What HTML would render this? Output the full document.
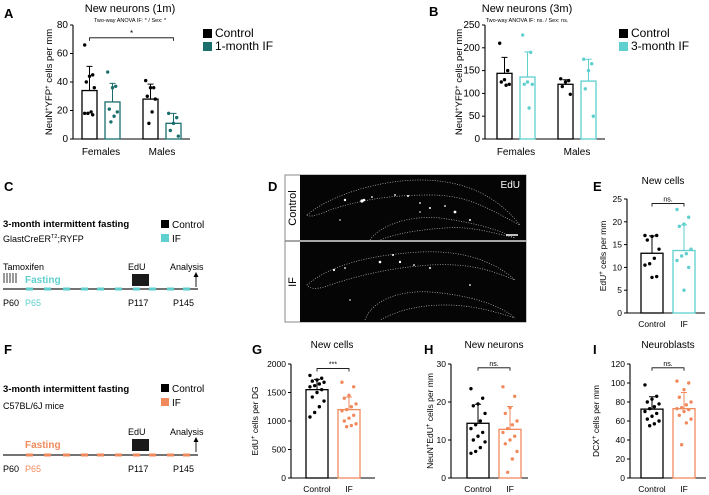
<!DOCTYPE html>
<html><head><meta charset="utf-8">
<style>
html,body{margin:0;padding:0;background:#fff;}
svg{display:block;font-family:"Liberation Sans",Arial,sans-serif;}
</style></head>
<body>
<svg id="fig" width="709" height="495" viewBox="0 0 709 495" xmlns="http://www.w3.org/2000/svg">
  <g font-weight="bold" font-size="13" fill="#000">
    <text x="4" y="18">A</text>
    <text x="429" y="16">B</text>
    <text x="4" y="191">C</text>
    <text x="268" y="191">D</text>
    <text x="593" y="191">E</text>
    <text x="4" y="354">F</text>
    <text x="252" y="354">G</text>
    <text x="424" y="354">H</text>
    <text x="593" y="354">I</text>
  </g>

  <g font-size="12">
    <rect x="203" y="29" width="9" height="9" fill="#000"/><text x="215" y="37">Control</text>
    <rect x="203" y="42" width="9" height="9" fill="#1a6e6c"/><text x="215" y="50">1-month IF</text>
  </g>
  <g font-size="12">
    <rect x="619" y="29" width="9" height="9" fill="#000"/><text x="631" y="37">Control</text>
    <rect x="619" y="42" width="9" height="9" fill="#5fcfcf"/><text x="631" y="50">3-month IF</text>
  </g>

  <g>
    <text x="3" y="227" font-size="9.5" font-weight="bold">3-month intermittent fasting</text>
    <text x="3" y="242" font-size="9">GlastCreER<tspan font-size="5.5" dy="-4">T2</tspan><tspan dy="4">;RYFP</tspan></text>
    <rect x="161" y="220" width="8" height="8" fill="#000"/><text x="172" y="228" font-size="10">Control</text>
    <rect x="161" y="234" width="8" height="8" fill="#5fcfcf"/><text x="172" y="242" font-size="10">IF</text>
    <text x="3" y="270" font-size="9">Tamoxifen</text>
    <g stroke="#000" stroke-width="0.8">
      <line x1="4" y1="273" x2="4" y2="283"/><line x1="7" y1="273" x2="7" y2="283"/><line x1="10" y1="273" x2="10" y2="283"/><line x1="13" y1="273" x2="13" y2="283"/><line x1="16" y1="273" x2="16" y2="283"/>
    </g>
    <text x="25" y="283" font-size="10" font-weight="bold" fill="#5fcfcf">Fasting</text>
    <text x="128" y="270" font-size="9">EdU</text>
    <rect x="132" y="274" width="17" height="12" fill="#1a1a1a"/>
    <text x="170" y="270" font-size="9">Analysis</text>
    <line x1="196" y1="287" x2="196" y2="275" stroke="#000" stroke-width="0.9"/>
    <polygon points="193.5,277 196,272 198.5,277" fill="#000"/>
    <line x1="3" y1="289" x2="198" y2="289" stroke="#222" stroke-width="1.2"/>
    <g fill="#5fcfcf">
      <rect x="26" y="287.5" width="7" height="3"/><rect x="44" y="287.5" width="7" height="3"/><rect x="63" y="287.5" width="7" height="3"/><rect x="81" y="287.5" width="7" height="3"/><rect x="97" y="287.5" width="7" height="3"/><rect x="115" y="287.5" width="7" height="3"/><rect x="133" y="287.5" width="7" height="3"/><rect x="149" y="287.5" width="7" height="3"/><rect x="167" y="287.5" width="7" height="3"/><rect x="183" y="287.5" width="7" height="3"/>
    </g>
    <text x="3" y="306" font-size="9">P60</text>
    <text x="25" y="306" font-size="9" fill="#5fcfcf">P65</text>
    <text x="128" y="306" font-size="9">P117</text>
    <text x="173" y="306" font-size="9">P145</text>
  </g>

  <g>
    <text x="3" y="392" font-size="9.5" font-weight="bold">3-month intermittent fasting</text>
    <text x="3" y="409" font-size="9">C57BL/6J mice</text>
    <rect x="161" y="384" width="8" height="8" fill="#000"/><text x="172" y="392" font-size="10">Control</text>
    <rect x="161" y="398" width="8" height="8" fill="#f08a5d"/><text x="172" y="406" font-size="10">IF</text>
    <text x="25" y="448" font-size="10" font-weight="bold" fill="#f08a5d">Fasting</text>
    <text x="128" y="435" font-size="9">EdU</text>
    <rect x="132" y="439" width="17" height="12" fill="#1a1a1a"/>
    <text x="170" y="435" font-size="9">Analysis</text>
    <line x1="196" y1="452" x2="196" y2="440" stroke="#000" stroke-width="0.9"/>
    <polygon points="193.5,442 196,437 198.5,442" fill="#000"/>
    <line x1="3" y1="455" x2="198" y2="455" stroke="#222" stroke-width="1.2"/>
    <g fill="#f08a5d">
      <rect x="26" y="453.5" width="7" height="3"/><rect x="44" y="453.5" width="7" height="3"/><rect x="63" y="453.5" width="7" height="3"/><rect x="81" y="453.5" width="7" height="3"/><rect x="97" y="453.5" width="7" height="3"/><rect x="115" y="453.5" width="7" height="3"/><rect x="133" y="453.5" width="7" height="3"/><rect x="149" y="453.5" width="7" height="3"/><rect x="167" y="453.5" width="7" height="3"/><rect x="183" y="453.5" width="7" height="3"/>
    </g>
    <text x="3" y="472" font-size="9">P60</text>
    <text x="25" y="472" font-size="9" fill="#f08a5d">P65</text>
    <text x="128" y="472" font-size="9">P117</text>
    <text x="173" y="472" font-size="9">P145</text>
  </g>

  <g>
    <rect x="285" y="175" width="241" height="147" fill="#fff" stroke="#888" stroke-width="1"/>
    <rect x="300" y="175" width="226" height="65" fill="#050505"/>
    <rect x="300" y="242" width="226" height="80" fill="#050505"/>
    <line x1="285" y1="241" x2="526" y2="241" stroke="#888" stroke-width="1.5"/>
    <text transform="translate(296,208) rotate(-90)" text-anchor="middle" font-size="11">Control</text>
    <text transform="translate(296,282) rotate(-90)" text-anchor="middle" font-size="11">IF</text>
    <text x="520" y="188" text-anchor="end" font-size="10" fill="#fff">EdU</text>
    <g fill="none" stroke="#bbb" stroke-width="0.7" stroke-dasharray="1,1.5">
      <path d="M307,215 C330,195 380,180 420,180 C470,180 500,200 520,225 C490,210 470,195 430,195 C390,195 360,200 330,210 C320,214 310,218 307,215 Z"/>
      <path d="M370,240 C380,225 410,215 440,218 C470,222 495,228 515,238 C490,232 470,226 445,228 C415,230 395,234 380,240"/>
      <path d="M307,285 C330,265 370,255 420,252 C465,250 495,262 515,280 C490,270 470,263 430,265 C390,268 360,275 330,285 C320,289 310,290 307,285 Z"/>
      <path d="M365,320 C372,300 400,290 430,292 C470,295 500,305 515,318 C490,310 470,305 445,305 C415,305 395,312 380,320"/>
    </g>
    <g fill="#fff">
      <circle cx="345" cy="200" r="1.2"/><circle cx="362" cy="201" r="1.6"/><circle cx="364" cy="200" r="1.3"/><circle cx="372" cy="197" r="0.9"/><circle cx="395" cy="195" r="0.9"/><circle cx="408" cy="196" r="1"/><circle cx="420" cy="203" r="0.9"/><circle cx="430" cy="208" r="1"/><circle cx="455" cy="212" r="1.4"/><circle cx="445" cy="206" r="0.9"/><circle cx="470" cy="220" r="1"/><circle cx="340" cy="220" r="0.8"/>
      <circle cx="334" cy="270" r="1.1"/><circle cx="345" cy="268" r="0.9"/><circle cx="380" cy="262" r="1.3"/><circle cx="393" cy="255" r="1"/><circle cx="400" cy="262" r="1.2"/><circle cx="414" cy="265" r="0.9"/><circle cx="430" cy="268" r="1"/><circle cx="470" cy="285" r="0.9"/><circle cx="350" cy="300" r="0.8"/><circle cx="420" cy="212" r="0.8"/>
    </g>
    <line x1="506" y1="235" x2="518" y2="235" stroke="#fff" stroke-width="1.5"/>
  </g>

  <g id="charts"></g>
</svg>

<script>
// ---- Panel A data ----
const aGroups = ['Females', 'Males'];
const aCtrlMean = [34, 28];
const aIfMean = [26, 11];
const aCtrlSd = [17, 10.5];
const aIfSd = [13, 7];
const aCtrlPts = [[66, 45, 44, 40, 36, 19, 18, 18, 17], [41, 36, 36, 30, 28, 19, 11]];
const aIfPts = [[47, 37, 36, 21, 19, 16, 12], [18, 15, 11, 6, 2]];
const aTicks = [0, 20, 40, 60, 80];

// ---- Panel B data ----
const bGroups = ['Females', 'Males'];
const bCtrlMean = [144, 120];
const bIfMean = [136, 127];
const bCtrlSd = [35, 10];
const bIfSd = [55, 48];
const bCtrlPts = [[210, 150, 130, 125, 120, 118], [132, 128, 125, 115, 98]];
const bIfPts = [[228, 190, 125, 120, 120, 68], [175, 165, 150, 110, 50]];
const bTicks = [0, 50, 100, 150, 200, 250];

// ---- Panel E data ----
const eCats = ['Control', 'IF'];
const eMeans = [13.1, 13.7];
const eSds = [3.8, 5.6];
const ePts = [[17, 17, 16.8, 16, 14, 12, 10.8, 10.5, 8, 7.8], [22.7, 21, 19.5, 19, 14, 13, 12.5, 11.5, 10, 5]];
const eTicks = [0, 5, 10, 15, 20, 25];

// ---- Panel G data ----
const gCats = ['Control', 'IF'];
const gMeans = [1550, 1200];
const gSds = [180, 220];
const gPts = [[1800, 1750, 1720, 1700, 1680, 1650, 1620, 1600, 1550, 1500, 1420, 1350, 1250, 1150, 1070], [1680, 1600, 1450, 1400, 1300, 1250, 1200, 1180, 1100, 1050, 1000, 950, 920, 900]];
const gTicks = [0, 500, 1000, 1500, 2000];

// ---- Panel H data ----
const hCats = ['Control', 'IF'];
const hMeans = [14.4, 12.8];
const hSds = [5, 6];
const hPts = [[23.5, 21, 19.5, 19, 17, 15, 14, 13, 12, 11, 10, 9.5, 8, 7, 6.5], [24, 21.5, 18.5, 17, 15, 14, 13, 12, 11, 10, 9, 7, 5, 1.5]];
const hTicks = [0, 10, 20, 30];

// ---- Panel I data ----
const iCats = ['Control', 'IF'];
const iMeans = [72.5, 73];
const iSds = [13, 17];
const iPts = [[98, 86, 83, 80, 78, 75, 73, 70, 68, 65, 62, 60, 57, 55], [102, 100, 93, 85, 80, 77, 74, 73, 72, 70, 66, 62, 58, 35]];
const iTicks = [0, 20, 40, 60, 80, 100, 120];

const NS = 'http://www.w3.org/2000/svg';
const root = document.getElementById('charts');
function mk(tag, attrs, parent) {
  const e = document.createElementNS(NS, tag);
  for (const k in attrs) e.setAttribute(k, attrs[k]);
  (parent || root).appendChild(e);
  return e;
}
function jitter(i) { return ((i * 5) % 7 - 3) / 3; }

function drawChart(o) {
  const g = mk('g', {});
  
  
  const max = o.ticks[o.ticks.length - 1];
  const yS = v => o.y0 - v / max * (o.y0 - o.yTop);
  const t = mk('text', { x: o.titleX, y: o.titleY, 'text-anchor': 'middle', 'font-size': o.titleSize }, g);
  t.textContent = o.title;
  
  
  if (o.sub) {
    const s = mk('text', { x: o.titleX, y: o.titleY + 10, 'text-anchor': 'middle', 'font-size': 5.5 }, g);
    s.textContent = o.sub;
    
    
  }
  const yt = mk('text', { transform: 'translate(' + o.yTitleX + ',' + ((o.y0 + o.yTop) / 2) + ') rotate(-90)', 'text-anchor': 'middle', 'font-size': o.yTitleSize }, g);
  yt.innerHTML = o.yTitle;
  
  
  const ax = mk('path', { d: 'M' + o.axisX + ',' + o.yTop + ' V' + o.y0 + ' H' + o.axisEnd, stroke: '#000', 'stroke-width': 1.1, fill: 'none' }, g);
  
  
  o.ticks.forEach(v => {
    const y = yS(v);
    mk('line', { x1: o.axisX - 3, x2: o.axisX, y1: y, y2: y, stroke: '#000', 'stroke-width': 1 }, g);
    const tl = mk('text', { x: o.axisX - 5, y: y + 3, 'text-anchor': 'end', 'font-size': o.tickSize }, g);
    tl.textContent = v;
    
    
  });
  o.series.forEach((sr, si) => {
    sr.means.forEach((m, ci) => {
      const x = o.barX(ci, si), w = o.barW;
      const top = yS(m);
      const bar = mk('rect', { x: x, y: top, width: w, height: o.y0 - top, fill: '#fff', stroke: sr.color, 'stroke-width': 1.3 }, g);
      
      
      const cx = x + w / 2, ey = yS(m + sr.sds[ci]);
      const eb = mk('path', { d: 'M' + cx + ',' + top + ' V' + ey + ' M' + (cx - 3) + ',' + ey + ' H' + (cx + 3), stroke: sr.color, 'stroke-width': 1, fill: 'none' }, g);
      
      
      sr.pts[ci].forEach((p, pi) => {
        const dot = mk('circle', { cx: cx + jitter(pi) * w * 0.32, cy: yS(p), r: 1.7, fill: sr.color }, g);
        
        
      });
    });
  });
  o.cats.forEach((c, ci) => {
    const xl = mk('text', { x: o.labelX(ci), y: o.labelY, 'text-anchor': 'middle', 'font-size': o.catSize }, g);
    xl.textContent = c;
    
    
  });
  if (o.bracket) {
    const b = o.bracket;
    const by = yS(b.v);
    const br = mk('path', { d: 'M' + b.x1 + ',' + (by + 3) + ' V' + by + ' H' + b.x2 + ' V' + (by + 3), stroke: '#000', 'stroke-width': 0.8, fill: 'none' }, g);
    
    
    const bt = mk('text', { x: (b.x1 + b.x2) / 2, y: by - 2, 'text-anchor': 'middle', 'font-size': b.size }, g);
    bt.textContent = b.label;
    
    
  }
}

const plusTitle = s => s;

// Panel A
drawChart({ name: 'chart-a', title: 'New neurons (1m)', sub: 'Two-way ANOVA IF: * / Sex: *', titleX: 130, titleY: 12, titleSize: 11,
  yTitle: 'NeuN<tspan dy="-3" font-size="6">+</tspan><tspan dy="3">YFP</tspan><tspan dy="-3" font-size="6">+</tspan><tspan dy="3"> cells per mm</tspan>', yTitleX: 52, yTitleSize: 9.5,
  axisX: 73, axisEnd: 190, y0: 139, yTop: 25, ticks: aTicks, tickSize: 10,
  cats: aGroups, labelX: ci => 101 + ci * 61, labelY: 155, catSize: 10, barW: 15,
  barX: (ci, si) => 82 + ci * 61 + si * 23,
  series: [{ key: 'control', color: '#000', means: aCtrlMean, sds: aCtrlSd, pts: aCtrlPts },
           { key: 'if', color: '#1a6e6c', means: aIfMean, sds: aIfSd, pts: aIfPts }],
  bracket: { x1: 89.5, x2: 173.5, v: 71, label: '*', size: 8 } });

// Panel B
drawChart({ name: 'chart-b', title: 'New neurons (3m)', sub: 'Two-way ANOVA IF: ns. / Sex: ns.', titleX: 527, titleY: 12, titleSize: 11,
  yTitle: 'NeuN<tspan dy="-3" font-size="6">+</tspan><tspan dy="3">YFP</tspan><tspan dy="-3" font-size="6">+</tspan><tspan dy="3"> cells per mm</tspan>', yTitleX: 462, yTitleSize: 9.5,
  axisX: 485, axisEnd: 605, y0: 139, yTop: 25, ticks: bTicks, tickSize: 10,
  cats: bGroups, labelX: ci => 516 + ci * 61, labelY: 155, catSize: 10, barW: 15,
  barX: (ci, si) => 497 + ci * 61 + si * 23,
  series: [{ key: 'control', color: '#000', means: bCtrlMean, sds: bCtrlSd, pts: bCtrlPts },
           { key: 'if', color: '#5fcfcf', means: bIfMean, sds: bIfSd, pts: bIfPts }] });

function twoBar(o) {
  drawChart({ name: o.name, title: o.title, titleX: o.titleX, titleY: o.titleY, titleSize: 10,
    yTitle: o.yTitle, yTitleX: o.yTitleX, yTitleSize: 8.5,
    axisX: o.axisX, axisEnd: o.axisEnd, y0: o.y0, yTop: o.yTop, ticks: o.ticks, tickSize: 8.5,
    cats: o.cats, labelX: ci => o.barStart + 11 + ci * 32, labelY: o.y0 + 14, catSize: 8.5, barW: 22,
    barX: (ci, si) => o.barStart + si * 32,
    series: [{ key: 'control', color: '#000', means: [o.means[0]], sds: [o.sds[0]], pts: [o.pts[0]] },
             { key: 'if', color: o.color, means: [o.means[1]], sds: [o.sds[1]], pts: [o.pts[1]] }],
    bracket: { x1: o.barStart + 11, x2: o.barStart + 43, v: o.bracketV, label: o.bracketLabel, size: 7 } });
}

twoBar({ name: 'chart-e', title: 'New cells', titleX: 663, titleY: 184, yTitle: 'EdU<tspan dy="-3" font-size="6">+</tspan><tspan dy="3"> cells per mm</tspan>', yTitleX: 606,
  axisX: 627, axisEnd: 705, barStart: 641, y0: 313, yTop: 199, ticks: eTicks, cats: eCats, means: eMeans, sds: eSds, pts: ePts, color: '#5fcfcf', bracketLabel: 'ns.', bracketV: 24 });
twoBar({ name: 'chart-g', title: 'New cells', titleX: 332, titleY: 348, yTitle: 'EdU<tspan dy="-3" font-size="6">+</tspan><tspan dy="3"> cells per DG</tspan>', yTitleX: 258,
  axisX: 291, axisEnd: 375, barStart: 306, y0: 478, yTop: 364, ticks: gTicks, cats: gCats, means: gMeans, sds: gSds, pts: gPts, color: '#f08a5d', bracketLabel: '***', bracketV: 1920 });
twoBar({ name: 'chart-h', title: 'New neurons', titleX: 494, titleY: 348, yTitle: 'NeuN<tspan dy="-3" font-size="6">+</tspan><tspan dy="3">EdU</tspan><tspan dy="-3" font-size="6">+</tspan><tspan dy="3"> cells per mm</tspan>', yTitleX: 433,
  axisX: 451, axisEnd: 528, barStart: 467, y0: 478, yTop: 364, ticks: hTicks, cats: hCats, means: hMeans, sds: hSds, pts: hPts, color: '#f08a5d', bracketLabel: 'ns.', bracketV: 29 });
twoBar({ name: 'chart-i', title: 'Neuroblasts', titleX: 668, titleY: 348, yTitle: 'DCX<tspan dy="-3" font-size="6">+</tspan><tspan dy="3"> cells per mm</tspan>', yTitleX: 599,
  axisX: 630, axisEnd: 706, barStart: 641, y0: 478, yTop: 364, ticks: iTicks, cats: iCats, means: iMeans, sds: iSds, pts: iPts, color: '#f08a5d', bracketLabel: 'ns.', bracketV: 116 });
</script>
</body></html>
